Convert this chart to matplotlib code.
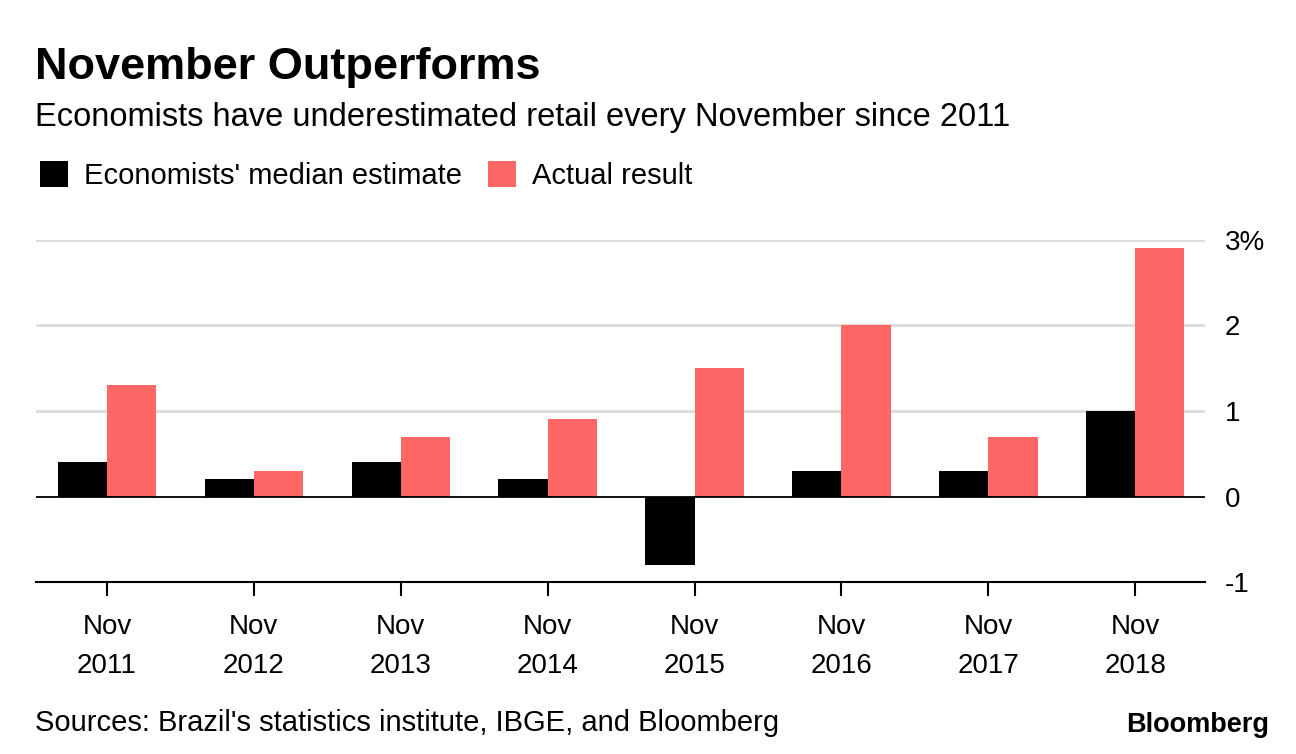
import numpy as np
import matplotlib.pyplot as plt

plt.rcParams['font.family'] = ['Liberation Sans', 'DejaVu Sans']

# Data
labels = ["Nov\n2011", "Nov\n2012", "Nov\n2013", "Nov\n2014",
          "Nov\n2015", "Nov\n2016", "Nov\n2017", "Nov\n2018"]
estimate = [0.4, 0.2, 0.4, 0.2, -0.8, 0.3, 0.3, 1.0]
actual = [1.3, 0.3, 0.7, 0.9, 1.5, 2.0, 0.7, 2.9]

x = np.arange(len(labels))
w = 0.335
red = "#ff6666"

fig = plt.figure(figsize=(12.96, 7.54), dpi=100)
ax = fig.add_axes([0.0278, 0.228, 0.902, 0.454])

b1 = ax.bar(x - w / 2, estimate, w, color="black", label="Economists' median estimate", zorder=3)
b2 = ax.bar(x + w / 2, actual, w, color=red, label="Actual result", zorder=3)

ax.set_xlim(-0.483, 7.475)
ax.set_ylim(-1, 3)
ax.set_yticks([-1, 0, 1, 2, 3])
ax.set_yticklabels(["-1", "0", "1", "2", "3%"])
ax.yaxis.tick_right()
ax.tick_params(axis="y", length=0, pad=14, labelsize=20)
ax.set_xticks(x)
ax.set_xticklabels(labels, linespacing=1.65)
ax.tick_params(axis="x", length=10, width=1.5, pad=13, labelsize=20)

for s in ["top", "left", "right"]:
    ax.spines[s].set_visible(False)
ax.spines["bottom"].set_linewidth(1.5)

for v in [1, 2, 3]:
    ax.axhline(v, color="#dddddd", lw=2.2, zorder=1)
ax.axhline(0, color="black", lw=1.3, zorder=4)

fig.text(0.027, 0.91, "November Outperforms", fontsize=32.5, fontweight="bold", va="center")
fig.text(0.027, 0.844, "Economists have underestimated retail every November since 2011",
         fontsize=23.5, va="center")

ax.legend(handles=[b1, b2], loc="center left", bbox_to_anchor=(0.031, 0.767),
          bbox_transform=fig.transFigure, ncol=2, frameon=False, fontsize=21,
          handlelength=0.95, handleheight=0.95, handletextpad=0.55, columnspacing=0.9,
          borderpad=0, borderaxespad=0)

fig.text(0.027, 0.041, "Sources: Brazil's statistics institute, IBGE, and Bloomberg",
         fontsize=21, va="center")
fig.text(0.979, 0.039, "Bloomberg", fontsize=19.5, fontweight="bold", va="center", ha="right")

fig.savefig("out.png", dpi=100)
